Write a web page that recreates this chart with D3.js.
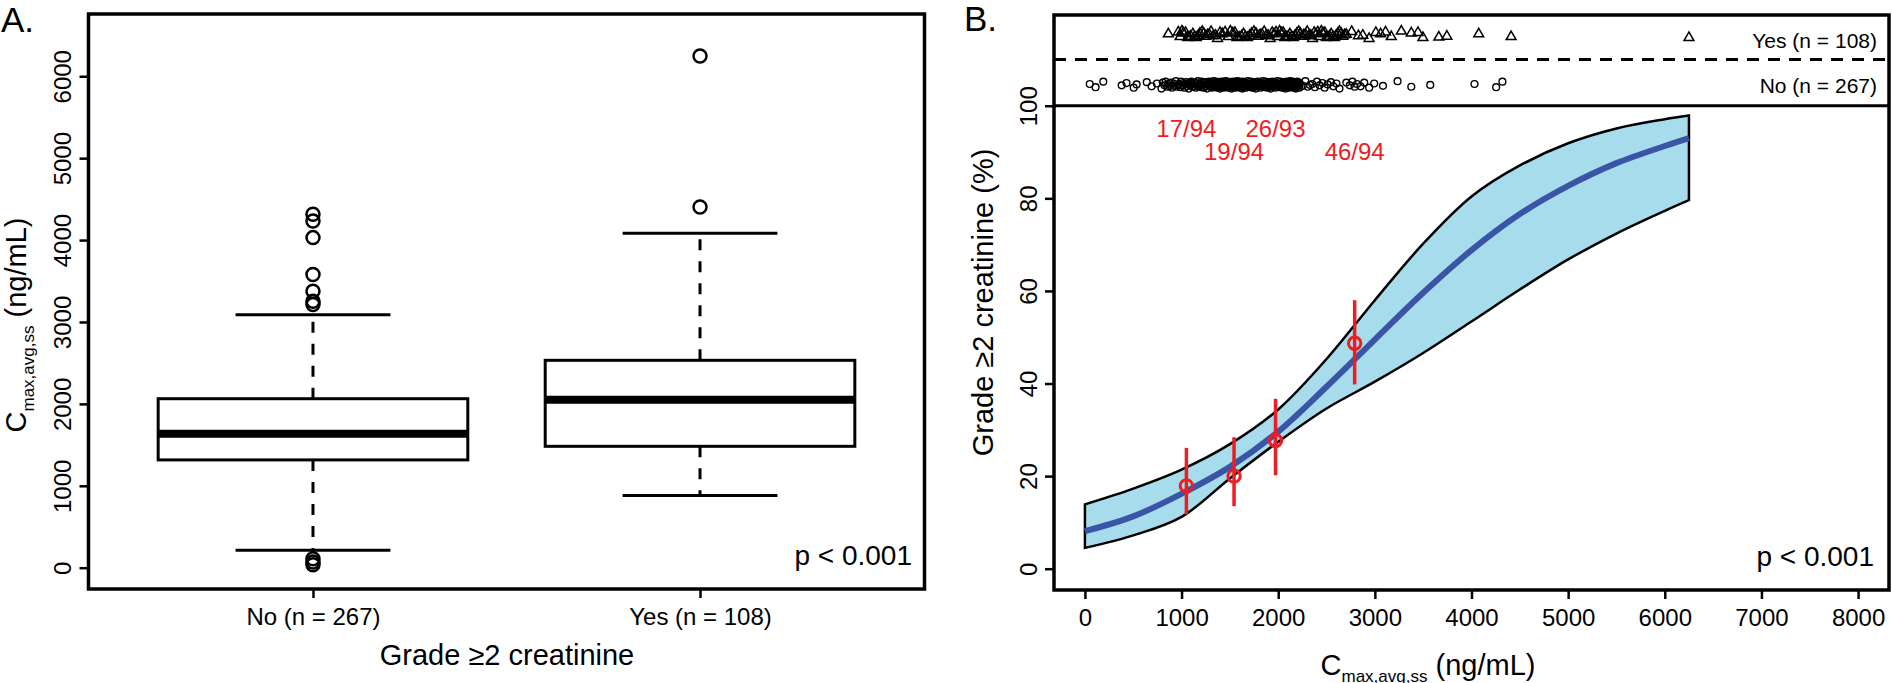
<!DOCTYPE html>
<html><head><meta charset="utf-8">
<script src="https://cdn.jsdelivr.net/npm/d3@7"></script>
<style>
body{margin:0;background:#fff}
svg{display:block}
text{font-family:"Liberation Sans", Arial, Helvetica, sans-serif; fill:#000}
</style>
</head><body>
<svg id="chart" width="1892" height="683"></svg>
<script>
// ---------------- DATA ----------------
// Panel A: box plot summaries
const boxGroups = ["No (n = 267)", "Yes (n = 108)"];
const boxQ1 = [1316, 1482];
const boxMedian = [1634, 2052];
const boxQ3 = [2063, 2532];
const whiskerLow = [214, 880];
const whiskerHigh = [3087, 4083];
const outliersNo = [4315, 4233, 4030, 3580, 3376, 3254, 3213, 110, 70, 35];
const outliersYes = [4403, 6248];
const yTicksA = [0, 1000, 2000, 3000, 4000, 5000, 6000];

// Panel B: exposure-response
const xTicksB = [0, 1000, 2000, 3000, 4000, 5000, 6000, 7000, 8000];
const yTicksB = [0, 20, 40, 60, 80, 100];
const curveX = [0, 500, 1000, 1500, 2000, 2500, 3000, 3500, 4000, 4500, 5000, 5500, 6000, 6250];
const fitPct = [8.1, 11.3, 16.2, 22.0, 29.6, 39.3, 49.5, 59.6, 68.8, 76.6, 82.7, 87.6, 91.3, 93.0];
const upperPct = [13.9, 17.3, 21.4, 26.9, 34.4, 45.3, 58.0, 70.2, 80.4, 87.1, 91.9, 95.1, 97.1, 97.9];
const lowerPct = [4.5, 7.2, 11.2, 19.5, 27.4, 34.6, 40.4, 46.6, 53.4, 60.3, 66.8, 72.4, 77.3, 79.6];
const obsX = [1050, 1543, 1972, 2791];
const obsPct = [17.9, 20.0, 27.7, 48.7];
const obsLo = [11.7, 13.5, 20.2, 39.8];
const obsHi = [26.1, 28.4, 36.7, 58.0];
const obsLabels = ["17/94", "19/94", "26/93", "46/94"];
const obsLabelPct = [95, 90, 95, 90];

// Rug strip (individual exposures)
const stripNo = [50,110,190,380,430,505,535,640,690,745,
792,806,823,835,851,862,877,889,901,918,927,941,950,966,974,988,995,1009,1016,1030,
1038,1049,1055,1068,1074,1086,1093,1101,1112,1118,1131,1136,1147,1150,1163,1169,1178,1184,1192,1201,
1207,1215,1222,1229,1238,1243,1251,1258,1263,1272,1279,1284,1293,1299,1305,1311,1316,
1320,1327,1330,1338,1343,1347,1352,1359,1362,1368,1374,1377,1384,1388,1393,1397,1403,1409,1412,1418,
1423,1425,1432,1437,1440,1447,1452,1455,1462,1468,1470,1477,1483,1486,1490,1498,1502,1507,1510,1517,
1523,1525,1530,1538,1542,1545,1552,1558,1560,1567,1573,1577,1580,1588,1592,1596,1603,1607,1611,1616,
1619,1622,1626,1628,1631,1633,1634,
1640,1647,1652,1660,1666,1671,1679,1685,1690,1698,1705,1711,1716,1724,1730,1736,1741,1749,1755,1762,
1768,1773,1781,1786,1793,1799,1806,1812,1818,1825,1831,1838,1843,1850,1857,1862,1870,1876,1881,1889,
1895,1901,1908,1914,1921,1926,1933,1939,1946,1952,1958,1965,1971,1978,1984,1990,1997,2004,2010,2017,
2024,2030,2038,2045,2054,2063,
2067,2071,2076,2080,2085,2088,2093,2098,2102,2107,2111,2116,2120,2124,2129,2133,2138,2142,2147,2151,
2156,2160,2165,2170,2174,2179,2183,2188,2192,2197,2201,2206,2210,2215,2219,2224,
2255,2281,2306,2330,2352,2379,2401,2427,2458,2480,2511,2545,2570,2602,2634,
2705,2741,2768,2790,2815,2852,2890,2941,2993,3084,
3235,3377,3573,4031,4255,4320];
const stripYes = [863,
966,985,1004,1020,1041,1063,1078,1096,1118,1135,1152,1174,1190,1213,1229,1250,1268,1287,1305,1330,
1351,1372,1398,1421,1450,1482,
1505,1531,1552,1574,1596,1620,1641,1660,1682,1705,1726,1748,1770,1791,1812,1833,1855,1874,1895,1917,
1938,1957,1978,1996,2015,2034,2052,
2068,2085,2104,2121,2140,2157,2175,2193,2211,2230,2246,2265,2283,2300,2318,2337,2355,2372,2391,2409,
2427,2446,2463,2481,2499,2516,2532,
2548,2566,2583,2600,2617,2633,2651,2668,2686,2705,
2760,2830,2875,2940,3010,3060,3110,3170,
3274,3377,3446,3497,3662,3745,4075,4410,6250];
const stripLevelNo = 104.5;
const stripLevelYes = 115.3;
const stripJitter = [0.2,-0.5,0.7,-0.1,0.4,-0.6,0.1,0.6,-0.3,0.3,-0.8,0.5,-0.1,0.7,-0.4,0.2,-0.3,0.5,-0.6,0.3,-0.2,0.8,-0.4,0.0];
const stripLabels = ["Yes (n = 108)", "No (n = 267)"];

// ---------------- DRAW ----------------
const svg = d3.select("#chart");
const RED = "#ee1d23", BAND = "#a6dcec", BLUE = "#3a54a6";

// ===== Panel A =====
const A = {left: 88.5, right: 924.5, top: 14, bottom: 589};
const xA = d3.scaleLinear().domain([0.42, 2.58]).range([A.left, A.right]);
const yA = d3.scaleLinear().domain([-260, 6760]).range([A.bottom, A.top]);

const gAy = svg.append("g").attr("transform", `translate(${A.left},0)`)
  .call(d3.axisLeft(yA).tickValues(yTicksA).tickSize(9).tickFormat(d3.format("d")));
gAy.select(".domain").remove();
gAy.selectAll(".tick line").attr("stroke", "#000").attr("stroke-width", 2.5);
gAy.selectAll(".tick text").attr("x", 0).attr("dy", 0).attr("font-size", 24)
  .attr("text-anchor", "middle").attr("transform", "translate(-18,0) rotate(-90)");

const gAx = svg.append("g").attr("transform", `translate(0,${A.bottom})`)
  .call(d3.axisBottom(xA).tickValues([1, 2]).tickSize(9).tickFormat((d, i) => boxGroups[i]));
gAx.select(".domain").remove();
gAx.selectAll(".tick line").attr("stroke", "#000").attr("stroke-width", 2.5);
gAx.selectAll(".tick text").attr("y", 36).attr("dy", 0).attr("font-size", 24);

const boxes = svg.append("g");
boxGroups.forEach((g, i) => {
  const c = xA(i + 1), hw = xA(i + 1.4) - c, sw = xA(i + 1.2) - c;
  boxes.append("line").attr("x1", c).attr("x2", c).attr("y1", yA(boxQ3[i])).attr("y2", yA(whiskerHigh[i]))
    .attr("stroke", "#000").attr("stroke-width", 3).attr("stroke-dasharray", "11,11");
  boxes.append("line").attr("x1", c).attr("x2", c).attr("y1", yA(boxQ1[i])).attr("y2", yA(whiskerLow[i]))
    .attr("stroke", "#000").attr("stroke-width", 3).attr("stroke-dasharray", "11,11");
  [whiskerHigh[i], whiskerLow[i]].forEach(v => {
    boxes.append("line").attr("x1", c - sw).attr("x2", c + sw).attr("y1", yA(v)).attr("y2", yA(v))
      .attr("stroke", "#000").attr("stroke-width", 3);
  });
  boxes.append("rect").attr("x", c - hw).attr("width", 2 * hw)
    .attr("y", yA(boxQ3[i])).attr("height", yA(boxQ1[i]) - yA(boxQ3[i]))
    .attr("fill", "#fff").attr("stroke", "#000").attr("stroke-width", 3);
  boxes.append("line").attr("x1", c - hw).attr("x2", c + hw).attr("y1", yA(boxMedian[i])).attr("y2", yA(boxMedian[i]))
    .attr("stroke", "#000").attr("stroke-width", 8);
  const outs = i === 0 ? outliersNo : outliersYes;
  boxes.selectAll(null).data(outs).enter().append("circle")
    .attr("cx", c).attr("cy", d => yA(d)).attr("r", 6.5)
    .attr("fill", "none").attr("stroke", "#000").attr("stroke-width", 2.5);
});

svg.append("rect").attr("x", A.left).attr("y", A.top).attr("width", A.right - A.left).attr("height", A.bottom - A.top)
  .attr("fill", "none").attr("stroke", "#000").attr("stroke-width", 3.5);

svg.append("text").attr("x", 912).attr("y", 565).attr("text-anchor", "end").attr("font-size", 28).text("p < 0.001");
svg.append("text").attr("x", 507).attr("y", 665).attr("text-anchor", "middle").attr("font-size", 29).text("Grade \u22652 creatinine");
const tA = svg.append("text").attr("transform", "translate(26,325) rotate(-90)").attr("text-anchor", "middle").attr("font-size", 29);
tA.append("tspan").text("C");
tA.append("tspan").attr("font-size", 17).attr("dy", 8).text("max,avg,ss");
tA.append("tspan").attr("dy", -8).text(" (ng/mL)");
svg.append("text").attr("x", 1).attr("y", 32).attr("font-size", 35).text("A.");

// ===== Panel B =====
const B = {left: 1054, right: 1889, top: 15, bottom: 590};
const xB = d3.scaleLinear().domain([-320, 8320]).range([B.left, B.right]);
const yB = d3.scaleLinear().domain([-4.6, 119.6]).range([B.bottom, B.top]);

const gBy = svg.append("g").attr("transform", `translate(${B.left},0)`)
  .call(d3.axisLeft(yB).tickValues(yTicksB).tickSize(9).tickFormat(d3.format("d")));
gBy.select(".domain").remove();
gBy.selectAll(".tick line").attr("stroke", "#000").attr("stroke-width", 2.5);
gBy.selectAll(".tick text").attr("x", 0).attr("dy", 0).attr("font-size", 24)
  .attr("text-anchor", "middle").attr("transform", "translate(-17,0) rotate(-90)");

const gBx = svg.append("g").attr("transform", `translate(0,${B.bottom})`)
  .call(d3.axisBottom(xB).tickValues(xTicksB).tickSize(9).tickFormat(d3.format("d")));
gBx.select(".domain").remove();
gBx.selectAll(".tick line").attr("stroke", "#000").attr("stroke-width", 2.5);
gBx.selectAll(".tick text").attr("y", 36).attr("dy", 0).attr("font-size", 24);

// confidence band
const bandData = curveX.map((x, i) => ({x, lo: lowerPct[i], hi: upperPct[i], fit: fitPct[i]}));
const smooth = d3.curveCatmullRom.alpha(0.5);
const area = d3.area().x(d => xB(d.x)).y0(d => yB(d.lo)).y1(d => yB(d.hi)).curve(smooth);
svg.append("path").datum(bandData).attr("d", area)
  .attr("fill", BAND).attr("stroke", "#000").attr("stroke-width", 2.5).attr("stroke-linejoin", "miter");
const line = d3.line().x(d => xB(d.x)).y(d => yB(d.fit)).curve(smooth);
svg.append("path").datum(bandData).attr("d", line)
  .attr("fill", "none").attr("stroke", BLUE).attr("stroke-width", 6);

// observed proportions
const obs = obsX.map((x, i) => ({x, p: obsPct[i], lo: obsLo[i], hi: obsHi[i], lab: obsLabels[i], ly: obsLabelPct[i]}));
const gObs = svg.append("g");
gObs.selectAll("line").data(obs).enter().append("line")
  .attr("x1", d => xB(d.x)).attr("x2", d => xB(d.x)).attr("y1", d => yB(d.lo)).attr("y2", d => yB(d.hi))
  .attr("stroke", RED).attr("stroke-width", 3.5);
gObs.selectAll("circle").data(obs).enter().append("circle")
  .attr("cx", d => xB(d.x)).attr("cy", d => yB(d.p)).attr("r", 6.2)
  .attr("fill", "none").attr("stroke", RED).attr("stroke-width", 3);
gObs.selectAll("text").data(obs).enter().append("text")
  .attr("x", d => xB(d.x)).attr("y", d => yB(d.ly)).attr("dy", "0.35em")
  .attr("text-anchor", "middle").attr("font-size", 24).style("fill", RED).text(d => d.lab);

// strip area
svg.append("line").attr("x1", B.left).attr("x2", B.right).attr("y1", yB(100)).attr("y2", yB(100))
  .attr("stroke", "#000").attr("stroke-width", 3);
svg.append("line").attr("x1", B.left).attr("x2", B.right).attr("y1", yB(110)).attr("y2", yB(110))
  .attr("stroke", "#000").attr("stroke-width", 3).attr("stroke-dasharray", "12,9");

svg.append("g").selectAll("circle").data(stripNo).enter().append("circle")
  .attr("cx", d => xB(d)).attr("cy", (d, i) => yB(stripLevelNo + stripJitter[i % stripJitter.length]))
  .attr("r", 3.4).attr("fill", "none").attr("stroke", "#000").attr("stroke-width", 1.4);
const tri = d3.symbol().type(d3.symbolTriangle).size(42);
svg.append("g").selectAll("path").data(stripYes).enter().append("path")
  .attr("d", tri)
  .attr("transform", (d, i) => `translate(${xB(d)},${yB(stripLevelYes + stripJitter[(i * 7) % stripJitter.length])})`)
  .attr("fill", "none").attr("stroke", "#000").attr("stroke-width", 1.5);

svg.append("text").attr("x", 1877).attr("y", 47.5).attr("text-anchor", "end").attr("font-size", 21).text(stripLabels[0]);
svg.append("text").attr("x", 1877).attr("y", 92.5).attr("text-anchor", "end").attr("font-size", 21).text(stripLabels[1]);

svg.append("rect").attr("x", B.left).attr("y", B.top).attr("width", B.right - B.left).attr("height", B.bottom - B.top)
  .attr("fill", "none").attr("stroke", "#000").attr("stroke-width", 3.5);

svg.append("text").attr("x", 1874).attr("y", 566).attr("text-anchor", "end").attr("font-size", 28).text("p < 0.001");
const tB = svg.append("text").attr("x", 1428).attr("y", 675).attr("text-anchor", "middle").attr("font-size", 29);
tB.append("tspan").text("C");
tB.append("tspan").attr("font-size", 17).attr("dy", 7).text("max,avg,ss");
tB.append("tspan").attr("dy", -7).text(" (ng/mL)");
svg.append("text").attr("transform", "translate(993,302.5) rotate(-90)").attr("text-anchor", "middle")
  .attr("font-size", 29).text("Grade \u22652 creatinine (%)");
svg.append("text").attr("x", 964).attr("y", 31).attr("font-size", 35).text("B.");
</script>
</body></html>
